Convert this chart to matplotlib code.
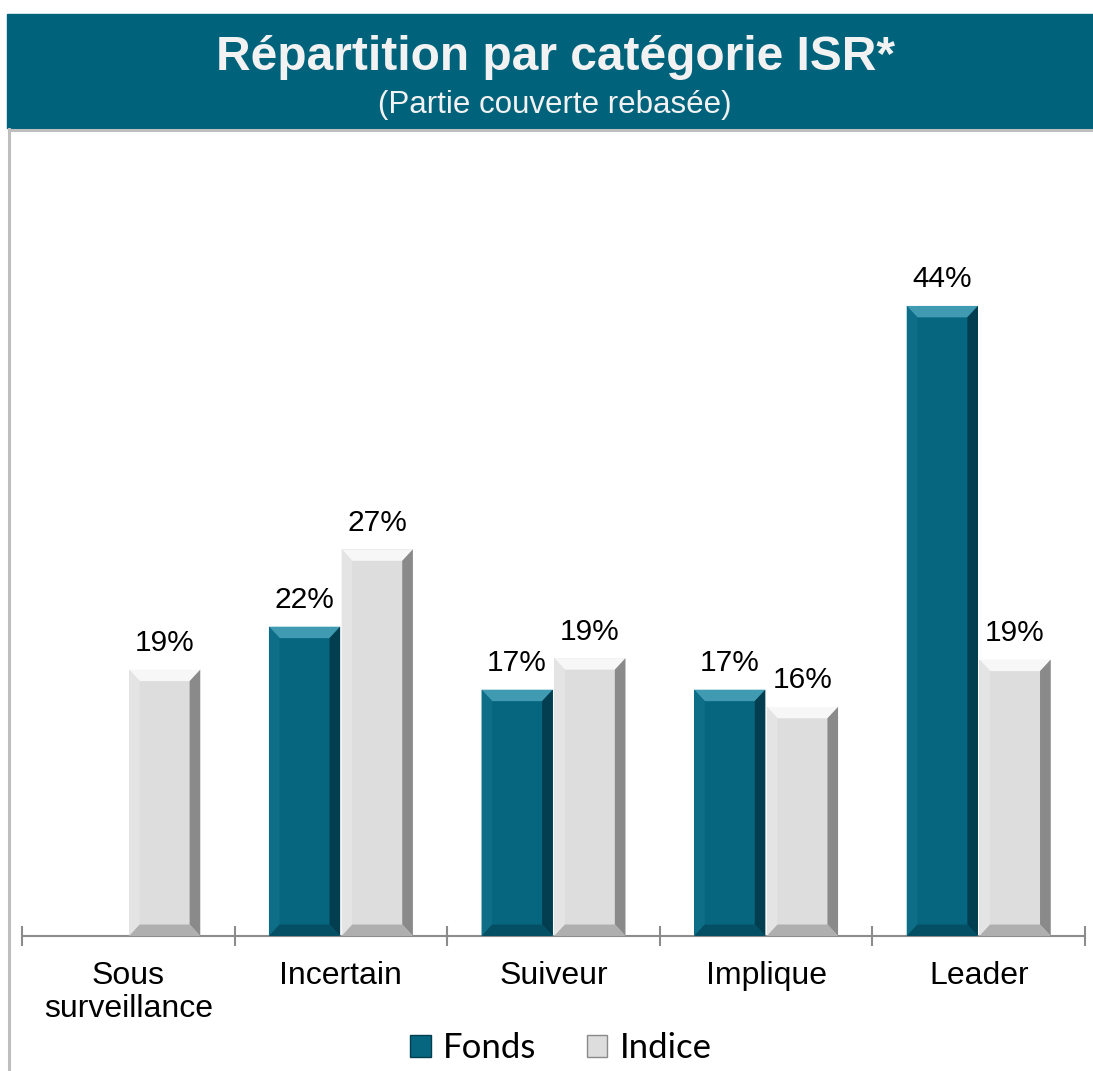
import matplotlib
matplotlib.use("Agg")
import matplotlib.pyplot as plt
from matplotlib.patches import Rectangle, Polygon, Patch
from matplotlib.lines import Line2D
import numpy as np

categories = ["Sous\nsurveillance", "Incertain", "Suiveur", "Implique", "Leader"]
fonds = [0.0, 21.6, 17.2, 17.2, 44.0]
indice = [18.6, 27.0, 19.4, 16.0, 19.3]
series_names = ["Fonds", "Indice"]

plt.rcParams["font.family"] = ["Liberation Sans", "DejaVu Sans"]

teal = "#07667F"
teal_top = "#3F9AB2"
teal_left = "#0E6E87"
teal_right = "#033E50"
teal_bot = "#044F63"
grey = "#DDDDDD"
grey_top = "#F7F7F7"
grey_left = "#E4E4E4"
grey_right = "#8A8A8A"
grey_bot = "#AFAFAF"

fig = plt.figure(figsize=(10.93, 10.71), dpi=100)

# header band and frame
fig.patches.append(Rectangle((7 / 1093, 1 - 128 / 1071), 1.0, 114 / 1071,
                             transform=fig.transFigure, color="#00637B", zorder=0))
fig.lines.append(Line2D([8.5 / 1093, 8.5 / 1093], [0, 1 - 129 / 1071],
                        transform=fig.transFigure, color="#BEBEBE", lw=2.2))
fig.lines.append(Line2D([8.5 / 1093, 1], [1 - 129.5 / 1071, 1 - 129.5 / 1071],
                        transform=fig.transFigure, color="#BEBEBE", lw=2.2))
fig.text(0.508, 1 - 57 / 1071, "Répartition par catégorie ISR*", ha="center", va="center",
         fontsize=34.5, fontweight="bold", color="#F2F2F2")
fig.text(0.508, 1 - 105 / 1071, "(Partie couverte rebasée)", ha="center", va="center",
         fontsize=22.5, color="#F2F2F2")

ax = fig.add_axes([22 / 1093, 1 - 936 / 1071, (1085 - 22) / 1093, (936 - 150) / 1071])
x = np.arange(len(categories))
w = 0.335
off = 0.171

b1 = ax.bar(x - off, fonds, w, color=teal, zorder=2)
b2 = ax.bar(x + off, indice, w, color=grey, zorder=2)


def bevel(bars, top, left, right, bot):
    bx = 0.05
    by = 0.8
    for r in bars:
        x0, y0 = r.get_x(), r.get_y()
        x1, y1 = x0 + r.get_width(), y0 + r.get_height()
        if r.get_height() <= 0:
            r.set_visible(False)
            continue
        ax.add_patch(Polygon([(x0, y1), (x1, y1), (x1 - bx, y1 - by), (x0 + bx, y1 - by)],
                             color=top, zorder=3, lw=0))
        ax.add_patch(Polygon([(x0, y0), (x0, y1), (x0 + bx, y1 - by), (x0 + bx, y0 + by)],
                             color=left, zorder=3, lw=0))
        ax.add_patch(Polygon([(x1, y0), (x1, y1), (x1 - bx, y1 - by), (x1 - bx, y0 + by)],
                             color=right, zorder=3, lw=0))
        ax.add_patch(Polygon([(x0, y0), (x1, y0), (x1 - bx, y0 + by), (x0 + bx, y0 + by)],
                             color=bot, zorder=3, lw=0))


bevel(b1, teal_top, teal_left, teal_right, teal_bot)
bevel(b2, grey_top, grey_left, grey_right, grey_bot)

for bars, vals in ((b1, fonds), (b2, indice)):
    labels = [f"{round(v)}%" if v > 0 else "" for v in vals]
    ax.bar_label(bars, labels=labels, padding=9, fontsize=21.5, color="black")

ax.set_xlim(-0.5, len(categories) - 0.5)
ax.set_ylim(0, (936 - 150) / 14.32)
for s in ("top", "right", "left"):
    ax.spines[s].set_visible(False)
ax.spines["bottom"].set_color("#8C8C8C")
ax.spines["bottom"].set_linewidth(1.5)
ax.set_yticks([])
ax.set_xticks(x)
ax.set_xticklabels(categories, fontsize=23, linespacing=1.15)
ax.tick_params(axis="x", which="major", length=0, pad=18)
ax.set_xticks(np.arange(len(categories) + 1) - 0.5, minor=True)
ax.tick_params(axis="x", which="minor", direction="inout", length=14, width=1.5,
               color="#8C8C8C")

handles = [Patch(facecolor=teal, edgecolor=teal_right, lw=1.0),
           Patch(facecolor=grey, edgecolor=grey_right, lw=1.0)]
fig.legend(handles, series_names, loc="center", bbox_to_anchor=(0.513, 1 - 1048 / 1071),
           ncol=2, frameon=False, prop={"family": "Lato", "size": 25},
           handlelength=0.6, handleheight=0.6, handletextpad=0.35, columnspacing=1.45)

fig.savefig("out.png", dpi=100)
